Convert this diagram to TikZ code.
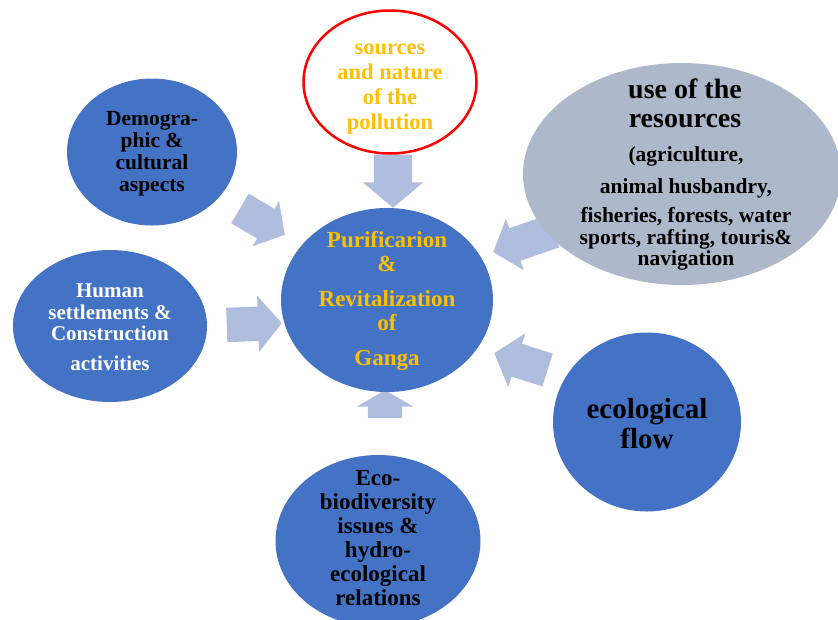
\documentclass[tikz,border=0pt]{standalone}
\usepackage{fontspec}
\setmainfont{Liberation Serif}
\usetikzlibrary{shapes.geometric}
\usetikzlibrary{shapes.arrows}

\definecolor{bubbleblue}{RGB}{68,114,196}
\definecolor{bubblegrey}{RGB}{173,185,202}
\definecolor{feedblue}{RGB}{175,189,222}
\definecolor{gold}{RGB}{255,192,0}

\tikzset{bubble/.style={ellipse,fill=bubbleblue,draw=none,inner sep=0pt,outer sep=0pt}}
\tikzset{blurb/.style={align=center,inner sep=0pt}}
\tikzset{feed/.style={single arrow,fill=feedblue,draw=none,anchor=tip,
    inner xsep=0pt,inner ysep=17pt,single arrow head extend=11pt,
    single arrow tip angle=100}}

\begin{document}
\begin{tikzpicture}[x=1pt,y=-1pt]
\useasboundingbox (0,0) rectangle (838,619);

% block arrows, placed by their tips
\node[feed,rotate=-90,minimum height=53pt,inner ysep=19pt] (a-pollution) at (393,208) {};
\node[feed,rotate=90,minimum height=28pt,single arrow tip angle=120] (a-biodiversity) at (385,390) {};
\node[feed,rotate=2,minimum height=55pt] (a-settlement) at (282,323) {};
\node[feed,rotate=-30.5,minimum height=52pt,single arrow head extend=9pt] (a-demography) at (285,235) {};
\node[feed,rotate=199,minimum height=64pt,single arrow head extend=10pt] (a-resources) at (493,252) {};
\node[feed,rotate=162.4,minimum height=56pt] (a-flow) at (494,353) {};

% the ellipses
\node[bubble,minimum width=212pt,minimum height=184pt] (hub) at (387,300) {};
\node[bubble,fill=white,draw=red,line width=2.5pt,minimum width=173pt,minimum height=143pt] (pollution) at (390,82) {};
\node[bubble,minimum width=170pt,minimum height=147pt] (demography) at (152,152) {};
\node[bubble,minimum width=194pt,minimum height=152pt] (settlement) at (110,326) {};
\node[bubble,fill=bubblegrey,minimum width=318pt,minimum height=222pt] (resources) at (682,174) {};
\node[bubble,minimum width=188pt,minimum height=179pt] (flow) at (647,422) {};
\node[bubble,minimum width=205pt,minimum height=172pt] (biodiversity) at (378,541) {};

% texts
\node[blurb,text=gold,font=\bfseries\fontsize{23}{24}\selectfont] (hub-t) at (387,301)
  {Purificarion\\\&\\[11pt]Revitalization\\of\\[11pt]Ganga};
\node[blurb,text=gold,font=\bfseries\fontsize{22.5}{25}\selectfont] (pollution-t) at (390,89)
  {sources\\and nature\\of the\\pollution};
\node[blurb,font=\bfseries\fontsize{21.5}{22}\selectfont] (demography-t) at (152,154)
  {Demogra-\\phic \&\\cultural\\aspects};
\node[blurb,text=white,font=\bfseries\fontsize{21}{21.5}\selectfont] (settlement-t) at (110,327)
  {Human\\settlements \&\\Construction\\[8pt]activities};
\node[blurb,font=\bfseries\fontsize{28}{29}\selectfont] (resources-h) at (685,103)
  {use of the\\resources};
\node[blurb,font=\bfseries\fontsize{21.5}{21.5}\selectfont] (resources-t) at (686,208.5)
  {(agriculture,\\[10pt]animal husbandry,\\[8pt]fisheries, forests, water\\sports, rafting, touris\&\\navigation};
\node[blurb,font=\bfseries\fontsize{29}{30}\selectfont] (flow-t) at (647,424)
  {ecological\\flow};
\node[blurb,font=\bfseries\fontsize{23}{24}\selectfont] (biodiversity-t) at (378,538)
  {Eco-\\biodiversity\\issues \&\\hydro-\\ecological\\relations};

\end{tikzpicture}
\end{document}
